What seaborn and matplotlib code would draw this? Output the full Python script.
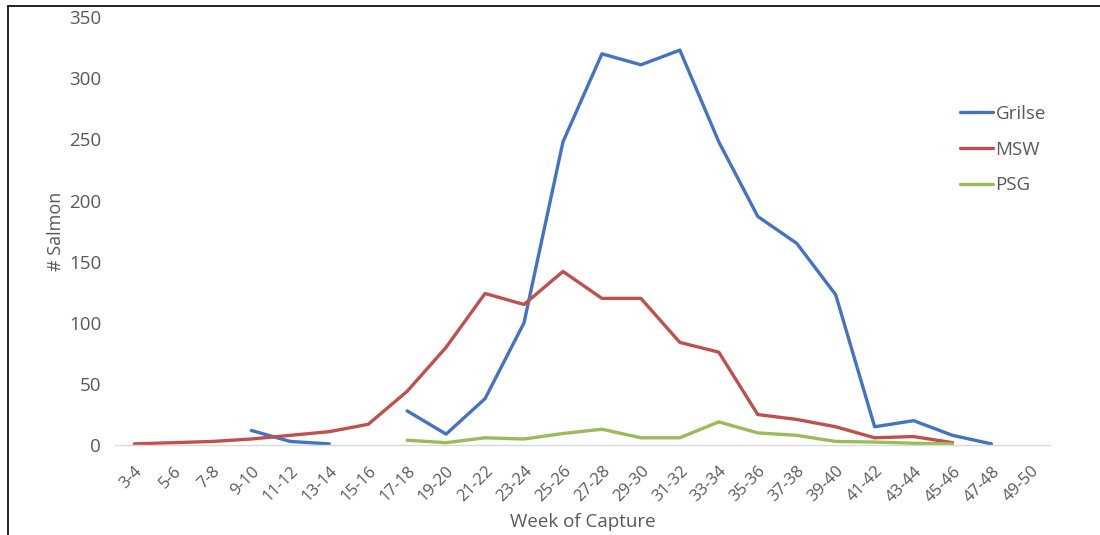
import numpy as np
import pandas as pd
import seaborn as sns
import matplotlib.pyplot as plt
from matplotlib.lines import Line2D

weeks = ["3-4", "5-6", "7-8", "9-10", "11-12", "13-14", "15-16", "17-18", "19-20",
         "21-22", "23-24", "25-26", "27-28", "29-30", "31-32", "33-34", "35-36",
         "37-38", "39-40", "41-42", "43-44", "45-46", "47-48", "49-50"]
nan = np.nan
grilse = [nan, nan, nan, 12, 3, 1, nan, 28, 9, 38, 100, 248, 320, 311, 323, 248,
          187, 165, 123, 15, 20, 8, 1, nan]
msw = [1, 2, 3, 5, 8, 11, 17, 44, 80, 124, 115, 142, 120, 120, 84, 76,
       25, 21, 15, 6, 7, 2, nan, nan]
psg = [nan, nan, nan, nan, nan, nan, nan, 4, 2, 6, 5, 9.5, 13, 6, 6, 19,
       10, 8, 3, 2.5, 1.5, 1, nan, nan]

series = {"Grilse": grilse, "MSW": msw, "PSG": psg}
colors = {"Grilse": "#4472C4", "MSW": "#C0504D", "PSG": "#9BBB59"}

sns.set_style("white")
plt.rcParams['font.family'] = ['Open Sans', 'DejaVu Sans']
grey = "#595959"

fig = plt.figure(figsize=(11, 5.35), dpi=100)
ax = fig.add_axes([0.1045, 0.168, 0.85, 0.8])

x = np.arange(len(weeks))
for name, vals in series.items():
    df = pd.DataFrame({"x": x, "y": vals})
    # split into runs so missing weeks leave gaps
    df["run"] = df["y"].isna().cumsum()
    df = df.dropna()
    first = True
    for _, seg in df.groupby("run"):
        sns.lineplot(data=seg, x="x", y="y", ax=ax, color=colors[name], linewidth=2.4,
                     label=name if first else None, estimator=None)
        first = False

ax.set_xlim(-0.5, len(weeks) - 0.5)
ax.set_ylim(0, 350)
ax.set_yticks(range(0, 351, 50))
ax.set_xticks(x)
ax.set_xticklabels(weeks, rotation=45, ha="right", rotation_mode="anchor")
ax.tick_params(axis="both", colors=grey, length=0)
ax.tick_params(axis="y", pad=10, labelsize=13.5)
ax.tick_params(axis="x", pad=13, labelsize=12)
for s in ["top", "right", "left"]:
    ax.spines[s].set_visible(False)
ax.spines["bottom"].set_color("#d9d9d9")
ax.spines["bottom"].set_linewidth(1)

ax.set_xlabel("Week of Capture", color=grey, fontsize=13.5)
ax.set_ylabel("# Salmon", color=grey, fontsize=13)
ax.xaxis.set_label_coords(0.5, -0.158)
ax.yaxis.set_label_coords(-0.053, 0.5)

leg = ax.legend(loc="upper left", bbox_to_anchor=(943 / 1100, 1 - 88 / 535),
                bbox_transform=fig.transFigure, frameon=False, fontsize=13.5,
                handlelength=1.75, handletextpad=0.15, labelspacing=0.95)
for t in leg.get_texts():
    t.set_color(grey)

# partial frame from the screenshot
fig.add_artist(Line2D([8 / 1100, 8 / 1100], [0, 1 - 6 / 535], color="black", lw=1.2))
fig.add_artist(Line2D([8 / 1100, 1], [1 - 6 / 535, 1 - 6 / 535], color="black", lw=1.2))

fig.savefig("out.png", dpi=100)
